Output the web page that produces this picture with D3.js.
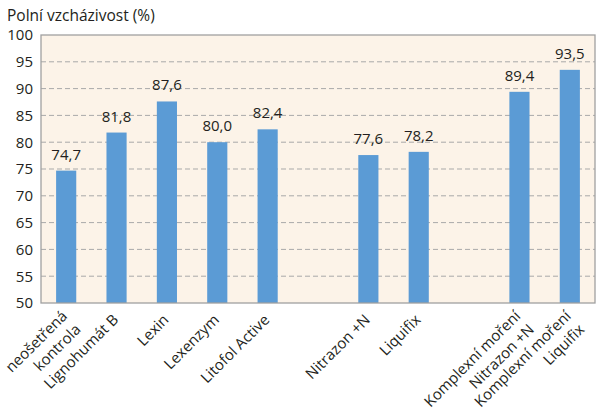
<!DOCTYPE html>
<html><head><meta charset="utf-8">
<script src="https://cdn.jsdelivr.net/npm/d3@7"></script>
<style>
body{margin:0;background:#fff;}
text{font-family:"Open Sans",sans-serif;fill:#231f20;}
</style></head>
<body><svg id="c" width="600" height="418"></svg>
<script>
const categories = ["neošetřená|kontrola","Lignohumát B","Lexin","Lexenzym","Litofol Active","","Nitrazon +N","Liquifix","","Komplexní moření|Nitrazon +N","Komplexní moření|Liquifix"];
const values = [74.7,81.8,87.6,80.0,82.4,null,77.6,78.2,null,89.4,93.5];
const valueLabels = ["74,7","81,8","87,6","80,0","82,4","","77,6","78,2","","89,4","93,5"];
const yTicks = [50,55,60,65,70,75,80,85,90,95,100];
const title = "Polní vzcházivost (%)";

const FS = 15;
const svg = d3.select("#c");
const L=41, R=595, T=35, B=303;
const x = d3.scaleBand().domain(d3.range(categories.length)).range([L,R]).paddingInner(0.6).paddingOuter(0.3);
const y = d3.scaleLinear().domain([50,100]).range([B,T]);

svg.append("rect").attr("x",L).attr("y",T).attr("width",R-L).attr("height",B-T).attr("fill","#fcf3e8");

svg.append("g").selectAll("line").data(yTicks.filter(d=>d>50&&d<100)).join("line")
  .attr("x1",L).attr("x2",R).attr("y1",d=>y(d)).attr("y2",d=>y(d))
  .attr("stroke","#a9a9a9").attr("stroke-width",1).attr("stroke-dasharray","5,3");

svg.append("g").selectAll("rect").data(values.map((v,i)=>({v,i})).filter(d=>d.v!==null)).join("rect")
  .attr("x",d=>x(d.i)).attr("width",x.bandwidth())
  .attr("y",d=>y(d.v)).attr("height",d=>B-y(d.v)).attr("fill","#5b9bd5");

svg.append("rect").attr("x",L).attr("y",T).attr("width",R-L).attr("height",B-T)
  .attr("fill","none").attr("stroke","#a0a0a0").attr("stroke-width",1.3);

svg.append("g").selectAll("text").data(values.map((v,i)=>({v,i})).filter(d=>d.v!==null)).join("text")
  .attr("x",d=>x(d.i)+x.bandwidth()/2).attr("y",d=>y(d.v)-11)
  .attr("text-anchor","middle").attr("font-size",FS).text(d=>valueLabels[d.i]);

const yAxis = d3.axisLeft(y).tickValues(yTicks).tickSize(0).tickPadding(8);
const ga = svg.append("g").attr("transform",`translate(${L},0)`).call(yAxis);
ga.select(".domain").remove();
ga.selectAll("text").attr("font-size",FS).attr("font-family","'Open Sans',sans-serif").attr("fill","#231f20");

const xl = svg.append("g");
categories.forEach((c,i)=>{
  if(!c) return;
  const lines = c.split("|");
  const cx = x(i)+x.bandwidth()/2;
  const lh = 19;
  const g = xl.append("g").attr("transform",lines.length>1?`translate(${cx+5},320) rotate(-45)`:`translate(${cx-1},317) rotate(-45)`);
  const t = g.append("text").attr("text-anchor","end").attr("font-size",FS);
  lines.forEach((ln,k)=>{
    t.append("tspan").attr("x",0).attr("y",(k-(lines.length-1)/2)*lh).attr("dy","0.35em").text(ln);
  });
});

svg.append("text").attr("x",7).attr("y",21).attr("font-size",15.5).text(title);
</script></body></html>
